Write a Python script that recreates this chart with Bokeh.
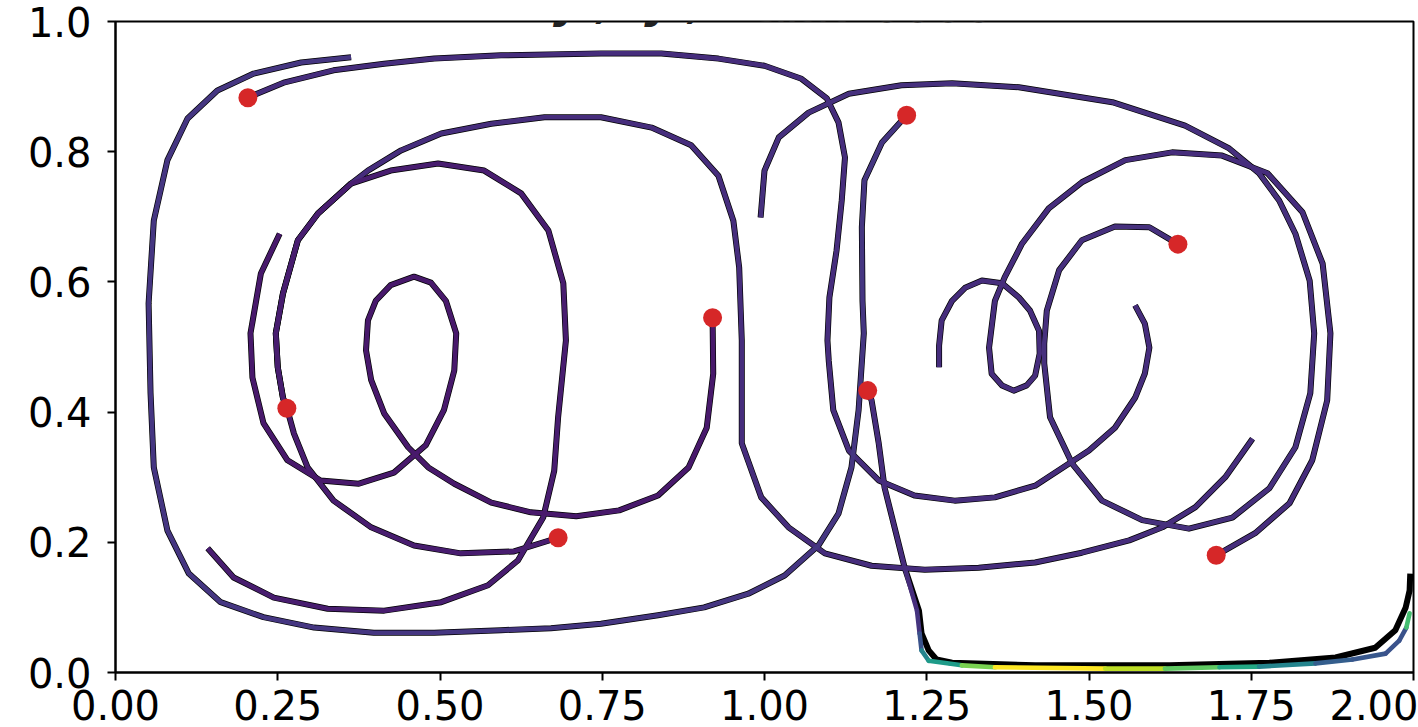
from bokeh.plotting import figure
from bokeh.models import ColumnDataSource, Range1d, FixedTicker, NumeralTickFormatter, Label
from bokeh.transform import linear_cmap
from bokeh.palettes import Viridis256
from bokeh.embed import file_html
from bokeh.resources import INLINE

# ---------------- data ----------------
x_ticks = [0.0, 0.25, 0.5, 0.75, 1.0, 1.25, 1.5, 1.75, 2.0]
y_ticks = [0.0, 0.2, 0.4, 0.6, 0.8, 1.0]

t1_x = [0.204, 0.259, 0.336, 0.414, 0.491, 0.594, 0.748, 0.841, 0.929, 1.000, 1.057, 1.096, 1.114, 1.124, 1.119,
        1.111, 1.100, 1.097, 1.099, 1.106, 1.130, 1.176, 1.231, 1.293, 1.355, 1.417, 1.500, 1.540, 1.571, 1.586,
        1.593, 1.586, 1.571]
t1_y = [0.883, 0.906, 0.925, 0.935, 0.943, 0.948, 0.951, 0.951, 0.943, 0.932, 0.912, 0.882, 0.845, 0.791, 0.725,
        0.648, 0.576, 0.510, 0.479, 0.403, 0.341, 0.295, 0.272, 0.264, 0.269, 0.287, 0.341, 0.376, 0.422, 0.459,
        0.499, 0.536, 0.564]

t2_x = [0.264, 0.258, 0.250, 0.247, 0.258, 0.281, 0.312, 0.363, 0.389, 0.440, 0.502, 0.579, 0.661, 0.748, 0.826,
        0.887, 0.929, 0.952, 0.961, 0.965, 0.965, 0.995, 1.037, 1.093, 1.165, 1.247, 1.330, 1.417, 1.489, 1.562,
        1.613, 1.664, 1.710, 1.752]
t2_y = [0.406, 0.422, 0.469, 0.521, 0.582, 0.664, 0.705, 0.751, 0.771, 0.802, 0.828, 0.843, 0.853, 0.853, 0.837,
        0.810, 0.763, 0.694, 0.622, 0.510, 0.352, 0.269, 0.223, 0.183, 0.164, 0.158, 0.161, 0.169, 0.184, 0.203,
        0.223, 0.254, 0.300, 0.359]

t3_x = [0.682, 0.614, 0.532, 0.460, 0.394, 0.336, 0.296, 0.275, 0.265, 0.258, 0.250, 0.247, 0.258, 0.281, 0.312,
        0.363, 0.424, 0.497, 0.568, 0.625, 0.667, 0.690, 0.694, 0.682, 0.676, 0.659, 0.620, 0.574, 0.502, 0.414,
        0.327, 0.244, 0.182, 0.142]
t3_y = [0.207, 0.186, 0.183, 0.195, 0.223, 0.264, 0.315, 0.367, 0.403, 0.422, 0.469, 0.521, 0.582, 0.664, 0.705,
        0.751, 0.771, 0.782, 0.771, 0.736, 0.679, 0.598, 0.510, 0.392, 0.310, 0.238, 0.172, 0.134, 0.108, 0.095,
        0.098, 0.115, 0.146, 0.191]

t4_x = [0.920, 0.921, 0.911, 0.883, 0.836, 0.776, 0.710, 0.640, 0.579, 0.522, 0.482, 0.451, 0.414, 0.394, 0.386,
        0.389, 0.401, 0.424, 0.460, 0.486, 0.509, 0.525, 0.522, 0.506, 0.478, 0.429, 0.375, 0.316, 0.265, 0.228,
        0.211, 0.208, 0.224, 0.253]
t4_y = [0.545, 0.459, 0.376, 0.315, 0.272, 0.249, 0.240, 0.246, 0.261, 0.290, 0.315, 0.346, 0.398, 0.449, 0.495,
        0.541, 0.571, 0.595, 0.608, 0.599, 0.571, 0.521, 0.464, 0.403, 0.349, 0.307, 0.290, 0.295, 0.326, 0.383,
        0.453, 0.521, 0.613, 0.674]

t5_x = [1.219, 1.181, 1.154, 1.150, 1.151, 1.153, 1.145, 1.134, 1.114, 1.083, 1.031, 0.975, 0.907, 0.836, 0.748,
        0.671, 0.594, 0.491, 0.398, 0.306, 0.228, 0.162, 0.113, 0.080, 0.059, 0.054, 0.051, 0.059, 0.080, 0.111,
        0.157, 0.213, 0.286, 0.363]
t5_y = [0.856, 0.814, 0.756, 0.684, 0.571, 0.521, 0.403, 0.315, 0.244, 0.195, 0.149, 0.121, 0.100, 0.088, 0.075,
        0.068, 0.065, 0.061, 0.061, 0.069, 0.085, 0.108, 0.152, 0.218, 0.315, 0.429, 0.567, 0.694, 0.787, 0.851,
        0.894, 0.920, 0.937, 0.945]

# trajectory 6: reference (black) and model (coloured by speed) differ near the wall
t6_x = [1.159, 1.165, 1.176, 1.185, 1.216, 1.238, 1.242, 1.253, 1.265, 1.289, 1.417, 1.624, 1.778, 1.880, 1.941,
        1.972, 1.988, 1.994, 1.995]
t6_y = [0.433, 0.418, 0.352, 0.284, 0.161, 0.095, 0.060, 0.034, 0.020, 0.015, 0.011, 0.011, 0.015, 0.023, 0.038,
        0.065, 0.100, 0.126, 0.152]
t6_pred_x = [1.159, 1.165, 1.176, 1.185, 1.216, 1.235, 1.239, 1.242, 1.253, 1.304, 1.355, 1.525, 1.617, 1.701,
             1.762, 1.849, 1.906, 1.957, 1.978, 1.989, 1.994]
t6_pred_y = [0.433, 0.418, 0.352, 0.284, 0.161, 0.095, 0.060, 0.034, 0.018, 0.011, 0.008, 0.006, 0.006, 0.008,
             0.009, 0.014, 0.020, 0.029, 0.049, 0.069, 0.091]
t6_pred_speed = [0.13, 0.13, 0.13, 0.13, 0.13, 0.15, 0.25, 0.45, 0.55, 0.80, 1.00, 0.90, 0.75, 0.60, 0.45, 0.30,
                 0.27, 0.25, 0.25, 0.70]

t7_x = [1.637, 1.593, 1.540, 1.489, 1.454, 1.435, 1.431, 1.431, 1.440, 1.474, 1.520, 1.582, 1.654, 1.721, 1.778,
        1.818, 1.841, 1.847, 1.840, 1.818, 1.793, 1.762, 1.716, 1.648, 1.536, 1.392, 1.289, 1.211, 1.130, 1.068,
        1.022, 1.000, 0.994]
t7_y = [0.658, 0.684, 0.685, 0.664, 0.618, 0.556, 0.505, 0.475, 0.392, 0.321, 0.264, 0.234, 0.221, 0.238, 0.283,
        0.346, 0.429, 0.521, 0.602, 0.674, 0.725, 0.767, 0.805, 0.840, 0.876, 0.899, 0.905, 0.902, 0.889, 0.860,
        0.822, 0.771, 0.699]

t8_x = [1.696, 1.756, 1.809, 1.844, 1.867, 1.872, 1.860, 1.829, 1.775, 1.705, 1.628, 1.556, 1.489, 1.438, 1.397,
        1.370, 1.355, 1.346, 1.350, 1.366, 1.384, 1.404, 1.417, 1.424, 1.423, 1.409, 1.392, 1.366, 1.335, 1.309,
        1.289, 1.273, 1.269, 1.269]
t8_y = [0.180, 0.214, 0.260, 0.326, 0.418, 0.521, 0.628, 0.707, 0.767, 0.794, 0.799, 0.787, 0.753, 0.713, 0.659,
        0.607, 0.571, 0.499, 0.459, 0.441, 0.433, 0.441, 0.456, 0.490, 0.525, 0.556, 0.576, 0.598, 0.602, 0.591,
        0.571, 0.541, 0.502, 0.469]

# colour value (normalised speed) of each modelled trajectory (t1, t2, t3, t4, t5, t7, t8)
traj_speed = [0.13, 0.13, 0.08, 0.07, 0.16, 0.14, 0.13]

title_main = "Double Flow:\u00a0\u00a0y\u00a0,\u00a0\u00a0y\u00a0,\u00a0\u00a0t"
title_sub = "short"
title_num = "0000"

# ---------------- figure ----------------
p = figure(width=1418, height=727, x_range=Range1d(0, 2), y_range=Range1d(0, 1),
           output_backend="svg", toolbar_location=None,
           min_border_left=115, min_border_right=5, min_border_top=21, min_border_bottom=55)
p.background_fill_color = "white"
p.border_fill_color = "white"
p.grid.visible = False
p.outline_line_color = "black"
p.outline_line_width = 2

for ax in (p.xaxis[0], p.yaxis[0]):
    ax.axis_line_width = 2
    ax.major_tick_line_width = 2
    ax.major_tick_out = 8
    ax.major_tick_in = 0
    ax.minor_tick_line_color = None
    ax.major_label_text_font = "DejaVu Sans"
    ax.major_label_text_font_size = "40px"
    ax.major_label_text_color = "black"

p.xaxis.ticker = FixedTicker(ticks=x_ticks)
p.yaxis.ticker = FixedTicker(ticks=y_ticks)
p.xaxis.formatter = NumeralTickFormatter(format="0.00")
p.yaxis.formatter = NumeralTickFormatter(format="0.0")
p.xaxis.major_label_standoff = 9
p.yaxis.major_label_standoff = 16

# reference trajectories (black)
true_xs = [t1_x, t2_x, t3_x, t4_x, t5_x, t6_x, t7_x, t8_x]
true_ys = [t1_y, t2_y, t3_y, t4_y, t5_y, t6_y, t7_y, t8_y]
p.multi_line(xs=true_xs, ys=true_ys, line_color="black", line_width=6,
             line_join="round", line_cap="butt")

# modelled trajectories (viridis by speed)
pred_src = ColumnDataSource(dict(
    xs=[t1_x, t2_x, t3_x, t4_x, t5_x, t7_x, t8_x],
    ys=[t1_y, t2_y, t3_y, t4_y, t5_y, t7_y, t8_y],
    v=traj_speed))
p.multi_line(xs="xs", ys="ys", source=pred_src, line_width=4.6, line_join="round",
             line_color=linear_cmap("v", Viridis256, 0, 1))

seg_src = ColumnDataSource(dict(
    x0=t6_pred_x[:-1], y0=t6_pred_y[:-1], x1=t6_pred_x[1:], y1=t6_pred_y[1:], v=t6_pred_speed))
p.segment(x0="x0", y0="y0", x1="x1", y1="y1", source=seg_src, line_width=4.6, line_cap="round",
          line_color=linear_cmap("v", Viridis256, 0, 1))

# starting positions
start_x = [t[0] for t in true_xs]
start_y = [t[0] for t in true_ys]
p.scatter(start_x, start_y, size=19, fill_color="#d62728", line_color=None)

# title (mostly above the visible page, as in the reference)
p.add_layout(Label(x=0.988, y=1.029, text=title_main, text_align="right", text_baseline="alphabetic",
                   text_font="DejaVu Sans", text_font_style="bold italic", text_font_size="44px",
                   text_color="#222222"))
p.add_layout(Label(x=0.992, y=1.016, text=title_sub, text_align="left", text_baseline="alphabetic",
                   text_font="DejaVu Sans", text_font_style="bold italic", text_font_size="30px",
                   text_color="#222222"))
p.add_layout(Label(x=1.165, y=1.0245, text=title_num, text_align="left", text_baseline="alphabetic",
                   text_font="DejaVu Sans", text_font_style="bold", text_font_size="44px",
                   text_color="#222222"))

open("out.html", "w").write(file_html(p, INLINE))
